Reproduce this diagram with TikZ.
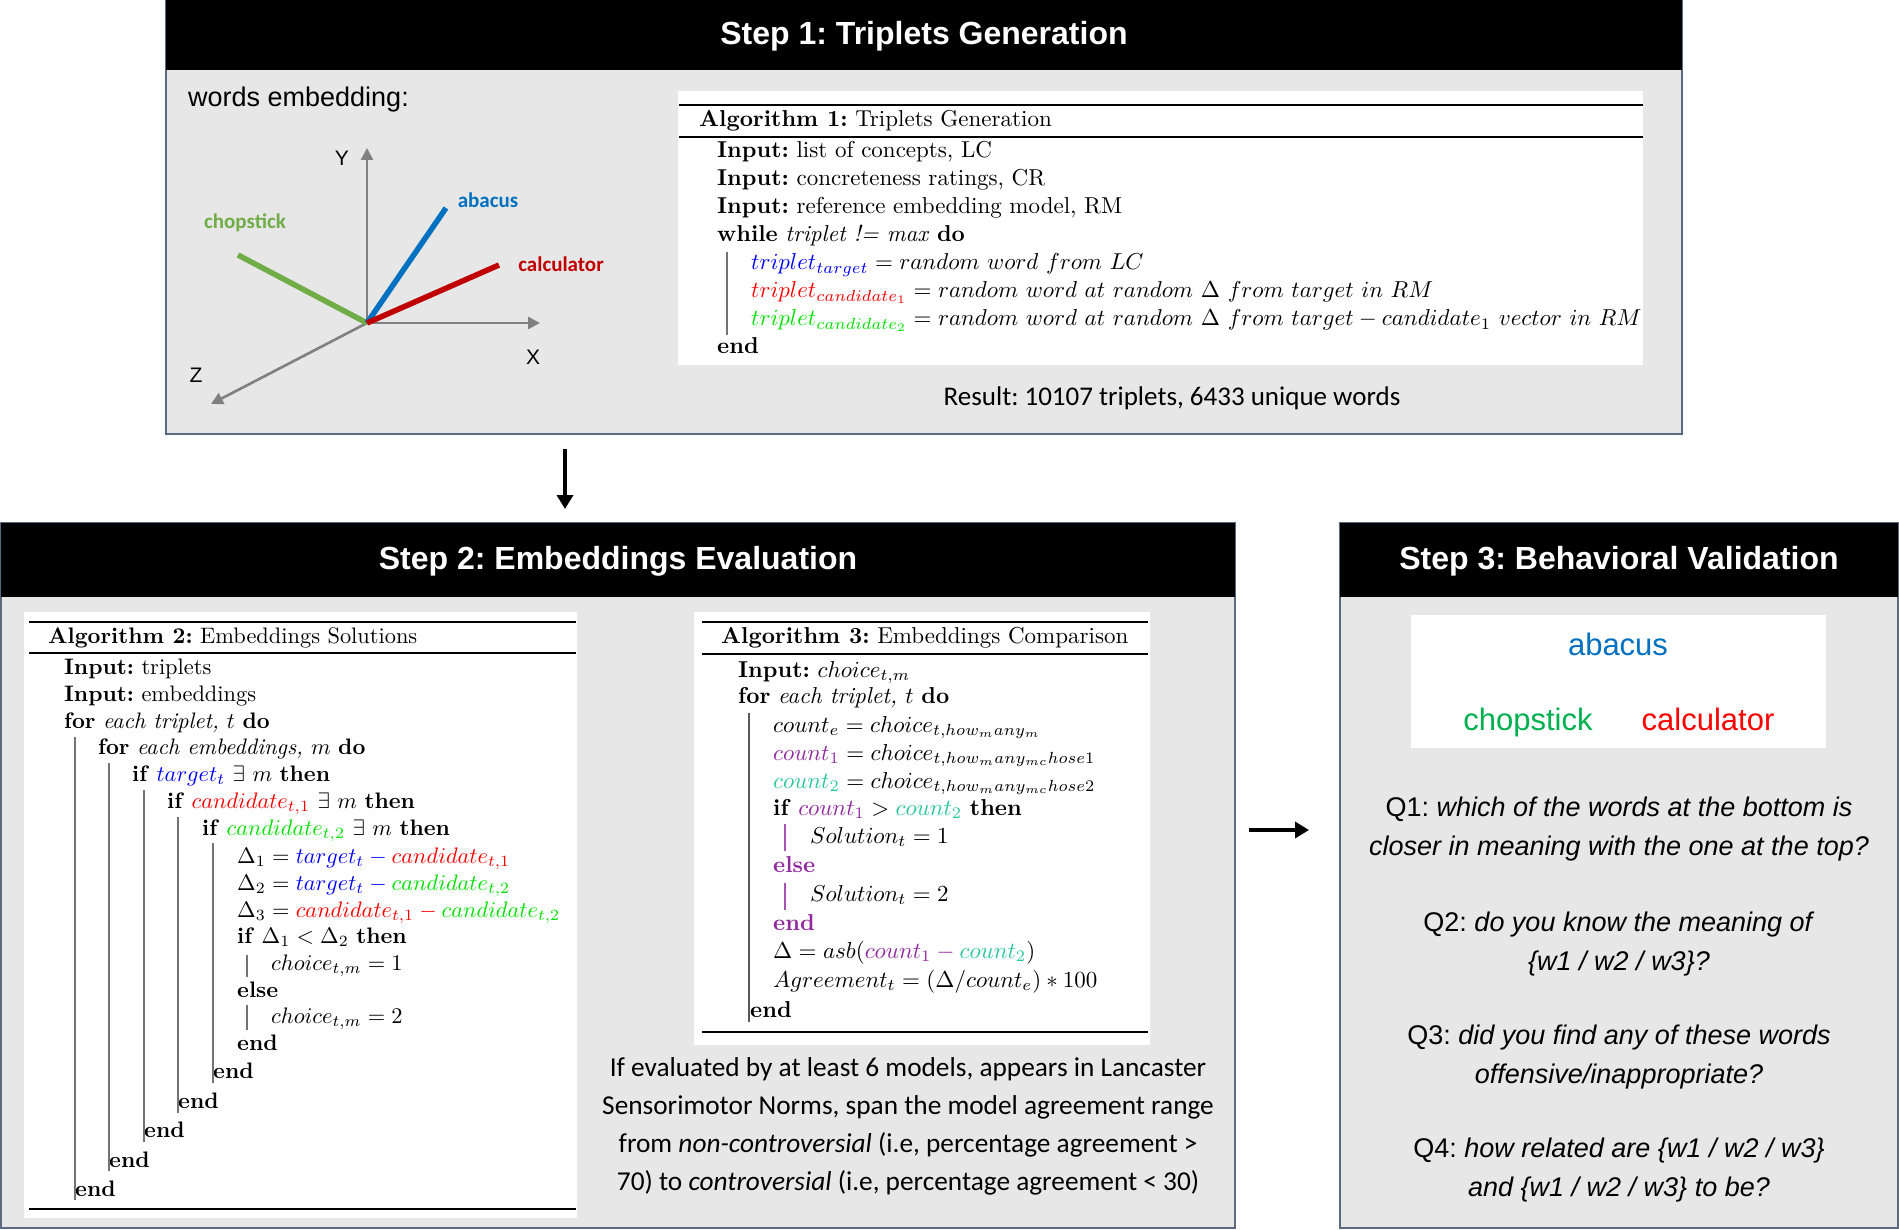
\documentclass[tikz,border=0pt]{standalone}
\usepackage{amsmath,amssymb}
\usepackage{fontspec}
\usepackage{graphicx}
\usepackage{xcolor}
\usepackage{tikz}
\usetikzlibrary{arrows.meta}

\newfontfamily\hvfont{Liberation Sans}
\newfontfamily\clfont{Carlito}
\newcommand{\algscale}{2.3}
\newcommand{\alg}[1]{\scalebox{\algscale}{#1}}
\frenchspacing

\definecolor{boxgray}{RGB}{231,231,231}
\definecolor{edgeblue}{RGB}{92,106,128}
\definecolor{axgray}{RGB}{128,128,128}
\definecolor{chopgreen}{RGB}{112,173,71}
\definecolor{abablue}{RGB}{0,112,192}
\definecolor{calcred}{RGB}{192,0,0}
\definecolor{qgreen}{RGB}{0,176,80}
\definecolor{qred}{RGB}{255,0,0}
\definecolor{algblue}{RGB}{0,0,255}
\definecolor{algred}{RGB}{255,0,0}
\definecolor{alggreen}{RGB}{0,225,0}
\definecolor{algpurple}{RGB}{145,40,160}
\definecolor{algteal}{RGB}{40,200,150}

\begin{document}
\begin{tikzpicture}[x=1pt,y=-1pt,
  stepbody/.style={draw=edgeblue,line width=1.5pt,fill=boxgray},
  steptitle/.style={text=white,inner sep=0pt,font=\hvfont\bfseries\fontsize{32}{38}\selectfont},
  algbox/.style={fill=white},
  arule/.style={line width=1.8pt},
  aline/.style={anchor=base west,inner sep=0pt,font=\fontsize{10}{12}\selectfont},
  abar/.style={draw=black!55,line width=1.2pt},
  axline/.style={-{Triangle[length=12pt,width=12pt]},axgray,line width=2.6pt},
  vec/.style={line width=5.5pt},
  veclab/.style={inner sep=0pt,font=\clfont\bfseries\fontsize{21}{25}\selectfont},
  axlab/.style={inner sep=0pt,font=\hvfont\fontsize{21}{25}\selectfont},
  bigarr/.style={-{Triangle[length=14pt,width=16pt]},line width=4pt},
  qtext/.style={align=center,inner sep=0pt,font=\hvfont\fontsize{27}{39}\selectfont}]

  \useasboundingbox (0,0) rectangle (1899,1230);

  % Step boxes
  \draw[stepbody] (166,0) rectangle (1682,434);
  \fill[black] (166,0) rectangle (1682,70);
  \node[steptitle] (t1) at (924,36) {Step 1: Triplets Generation};

  \draw[stepbody] (1,523) rectangle (1235,1228);
  \fill[black] (1,523) rectangle (1235,597);
  \node[steptitle] (t2) at (618,561) {Step 2: Embeddings Evaluation};

  \draw[stepbody] (1340,523) rectangle (1898,1228);
  \fill[black] (1340,523) rectangle (1898,597);
  \node[steptitle] (t3) at (1619,561) {Step 3: Behavioral Validation};

  % Arrows between steps
  \coordinate (d1) at (565,449);
  \coordinate (d2) at (565,509);
  \coordinate (r1) at (1249,830);
  \coordinate (r2) at (1309,830);
  \draw[bigarr] (d1) -- (d2);
  \draw[bigarr] (r1) -- (r2);

  % Words embedding sketch
  \node[anchor=base west,inner sep=0pt,font=\hvfont\fontsize{27}{31}\selectfont]
    (emb) at (188,107) {words embedding:};
  \coordinate (orig) at (367,323);
  \coordinate (ytip) at (367,148);
  \coordinate (xtip) at (540,323);
  \coordinate (ztip) at (211,404);
  \draw[axline] (orig) -- (ytip);
  \draw[axline] (orig) -- (xtip);
  \draw[axline] (orig) -- (ztip);
  \node[axlab] (ylab) at (342,158) {Y};
  \node[axlab] (xlab) at (533,357) {X};
  \node[axlab] (zlab) at (196,375) {Z};
  \coordinate (chop) at (238,255);
  \coordinate (aba) at (446,208);
  \coordinate (calc) at (499,265);
  \draw[vec,chopgreen] (chop) -- (orig);
  \draw[vec,abablue] (orig) -- (aba);
  \draw[vec,calcred] (orig) -- (calc);
  \node[veclab,text=chopgreen] (choplab) at (245,223) {chopstick};
  \node[veclab,text=abablue] (abalab) at (488,200) {abacus};
  \node[veclab,text=calcred] (calclab) at (561,264) {calculator};

  % Algorithm 1
  \fill[algbox] (678,91) rectangle (1643,365);
  \draw[arule] (679,105) -- (1643,105);
  \draw[arule] (679,137) -- (1643,137);
  \node[aline] (a0) at (699,127) {\alg{\textbf{Algorithm 1:} Triplets Generation}};
  \node[aline] (a1) at (717,158) {\alg{\textbf{Input:} list of concepts, LC}};
  \node[aline] (a2) at (717,186) {\alg{\textbf{Input:} concreteness ratings, CR}};
  \node[aline] (a3) at (717,214) {\alg{\textbf{Input:} reference embedding model, RM}};
  \node[aline] (a4) at (717,242) {\alg{\textbf{while} \textit{triplet != max} \textbf{do}}};
  \node[aline] (a5) at (751,270)
    {\alg{$\textcolor{algblue}{triplet_{target}} = random\ word\ from\ LC$}};
  \node[aline] (a6) at (751,298)
    {\alg{$\textcolor{algred}{triplet_{candidate_1}} = random\ word\ at\ random\ \Delta\ from\ target\ in\ RM$}};
  \node[aline] (a7) at (751,326)
    {\alg{$\textcolor{alggreen}{triplet_{candidate_2}} = random\ word\ at\ random\ \Delta\ from\ target - candidate_1\ vector\ in\ RM$}};
  \node[aline] (a8) at (717,354) {\alg{\textbf{end}}};
  \draw[abar] (727,252) -- (727,335);
  \node[inner sep=0pt,font=\clfont\fontsize{27}{32}\selectfont]
    (result) at (1172,398) {Result: 10107 triplets, 6433 unique words};

  % Algorithm 2
  \renewcommand{\algscale}{2.24}
  \fill[algbox] (24,612) rectangle (577,1218);
  \draw[arule] (29,622) -- (576,622);
  \draw[arule] (29,653) -- (576,653);
  \draw[arule] (29,1209) -- (576,1209);
  \node[aline] (b0) at (48,643) {\alg{\textbf{Algorithm 2:} Embeddings Solutions}};
  \node[aline] (b1) at (64,674) {\alg{\textbf{Input:} triplets}};
  \node[aline] (b2) at (64,701) {\alg{\textbf{Input:} embeddings}};
  \node[aline] (b3) at (64,728) {\alg{\textbf{for} \textit{each triplet, $t$} \textbf{do}}};
  \node[aline] (b4) at (98,754) {\alg{\textbf{for} \textit{each embeddings, $m$} \textbf{do}}};
  \node[aline] (b5) at (132,781)
    {\alg{\textbf{if} $\textcolor{algblue}{target_t}\ \exists\ m$ \textbf{then}}};
  \node[aline] (b6) at (167,808)
    {\alg{\textbf{if} $\textcolor{algred}{candidate_{t,1}}\ \exists\ m$ \textbf{then}}};
  \node[aline] (b7) at (202,835)
    {\alg{\textbf{if} $\textcolor{alggreen}{candidate_{t,2}}\ \exists\ m$ \textbf{then}}};
  \node[aline] (b8) at (237,863)
    {\alg{$\Delta_1 = \textcolor{algblue}{target_t} \mathbin{\textcolor{algblue}{-}} \textcolor{algred}{candidate_{t,1}}$}};
  \node[aline] (b9) at (237,890)
    {\alg{$\Delta_2 = \textcolor{algblue}{target_t} \mathbin{\textcolor{algblue}{-}} \textcolor{alggreen}{candidate_{t,2}}$}};
  \node[aline] (b10) at (237,917)
    {\alg{$\Delta_3 = \textcolor{algred}{candidate_{t,1}} \mathbin{\textcolor{algred}{-}} \textcolor{alggreen}{candidate_{t,2}}$}};
  \node[aline] (b11) at (237,943) {\alg{\textbf{if} $\Delta_1 < \Delta_2$ \textbf{then}}};
  \node[aline] (b12) at (271,970) {\alg{$choice_{t,m} = 1$}};
  \node[aline] (b13) at (237,997) {\alg{\textbf{else}}};
  \node[aline] (b14) at (271,1023) {\alg{$choice_{t,m} = 2$}};
  \node[aline] (b15) at (237,1050) {\alg{\textbf{end}}};
  \node[aline] (b16) at (213,1078) {\alg{\textbf{end}}};
  \node[aline] (b17) at (178,1108) {\alg{\textbf{end}}};
  \node[aline] (b18) at (144,1137) {\alg{\textbf{end}}};
  \node[aline] (b19) at (109,1167) {\alg{\textbf{end}}};
  \node[aline] (b20) at (75,1196) {\alg{\textbf{end}}};
  \draw[abar] (75,737) -- (75,1200);
  \draw[abar] (109,763) -- (109,1171);
  \draw[abar] (144,790) -- (144,1142);
  \draw[abar] (178,817) -- (178,1113);
  \draw[abar] (213,843) -- (213,1083);
  \draw[abar] (247,955) -- (247,977);
  \draw[abar] (247,1005) -- (247,1030);

  % Algorithm 3
  \renewcommand{\algscale}{2.3}
  \fill[algbox] (694,612) rectangle (1150,1045);
  \draw[arule] (702,622) -- (1148,622);
  \draw[arule] (702,654) -- (1148,654);
  \draw[arule] (702,1032) -- (1148,1032);
  \node[aline] (c0) at (721,643) {\alg{\textbf{Algorithm 3:} Embeddings Comparison}};
  \node[aline] (c1) at (738,677) {\alg{\textbf{Input:} $choice_{t,m}$}};
  \node[aline] (c2) at (738,703) {\alg{\textbf{for} \textit{each triplet, $t$} \textbf{do}}};
  \node[aline] (c3) at (773,732) {\alg{$count_e = choice_{t,how_many_m}$}};
  \node[aline] (c4) at (773,760)
    {\alg{$\textcolor{algpurple}{count_1} = choice_{t,how_many_{mc}hose1}$}};
  \node[aline] (c5) at (773,788)
    {\alg{$\textcolor{algteal}{count_2} = choice_{t,how_many_{mc}hose2}$}};
  \node[aline] (c6) at (773,815)
    {\alg{\textbf{if} $\textcolor{algpurple}{count_1} > \textcolor{algteal}{count_2}$ \textbf{then}}};
  \node[aline] (c7) at (810,843) {\alg{$Solution_t = 1$}};
  \node[aline,text=algpurple] (c8) at (773,872) {\alg{\textbf{else}}};
  \node[aline] (c9) at (810,901) {\alg{$Solution_t = 2$}};
  \node[aline,text=algpurple] (c10) at (773,930) {\alg{\textbf{end}}};
  \node[aline] (c11) at (773,958)
    {\alg{$\Delta = asb(\textcolor{algpurple}{count_1} \mathbin{\textcolor{algpurple}{-}} \textcolor{algteal}{count_2})$}};
  \node[aline] (c12) at (773,987) {\alg{$Agreement_t = (\Delta/count_e) * 100$}};
  \node[aline] (c13) at (750,1017) {\alg{\textbf{end}}};
  \draw[abar,draw=black!65] (749,713) -- (749,1022);
  \draw[abar,draw=algpurple!80] (785,824) -- (785,851);
  \draw[abar,draw=algpurple!80] (785,883) -- (785,910);

  % Selection criteria
  \node[align=center,inner sep=0pt,font=\clfont\fontsize{27.3}{38}\selectfont] (crit) at (908,1126)
    {If evaluated by at least 6 models, appears in Lancaster\\
     Sensorimotor Norms, span the model agreement range\\
     from \textit{non-controversial} (i.e, percentage agreement >\\
     70) to \textit{controversial} (i.e, percentage agreement < 30)};

  % Behavioral validation
  \fill[white] (1411,615) rectangle (1826,748);
  \node[anchor=base,inner sep=0pt,font=\hvfont\fontsize{31}{36}\selectfont,text=abablue]
    (w1) at (1618,655) {abacus};
  \node[anchor=base,inner sep=0pt,font=\hvfont\fontsize{31}{36}\selectfont,text=qgreen]
    (w2) at (1528,730) {chopstick};
  \node[anchor=base,inner sep=0pt,font=\hvfont\fontsize{31}{36}\selectfont,text=qred]
    (w3) at (1708,730) {calculator};
  \node[qtext] (q1) at (1619,829) {Q1: \textit{which of the words at the bottom is}\\
    \textit{closer in meaning with the one at the top?}};
  \node[qtext] (q2) at (1619,944) {Q2: \textit{do you know the meaning of}\\
    \textit{\{w1 / w2 / w3\}?}};
  \node[qtext] (q3) at (1619,1057) {Q3: \textit{did you find any of these words}\\
    \textit{offensive/inappropriate?}};
  \node[qtext] (q4) at (1619,1170) {Q4: \textit{how related are \{w1 / w2 / w3\}}\\
    \textit{and \{w1 / w2 / w3\} to be?}};
\end{tikzpicture}
\end{document}
